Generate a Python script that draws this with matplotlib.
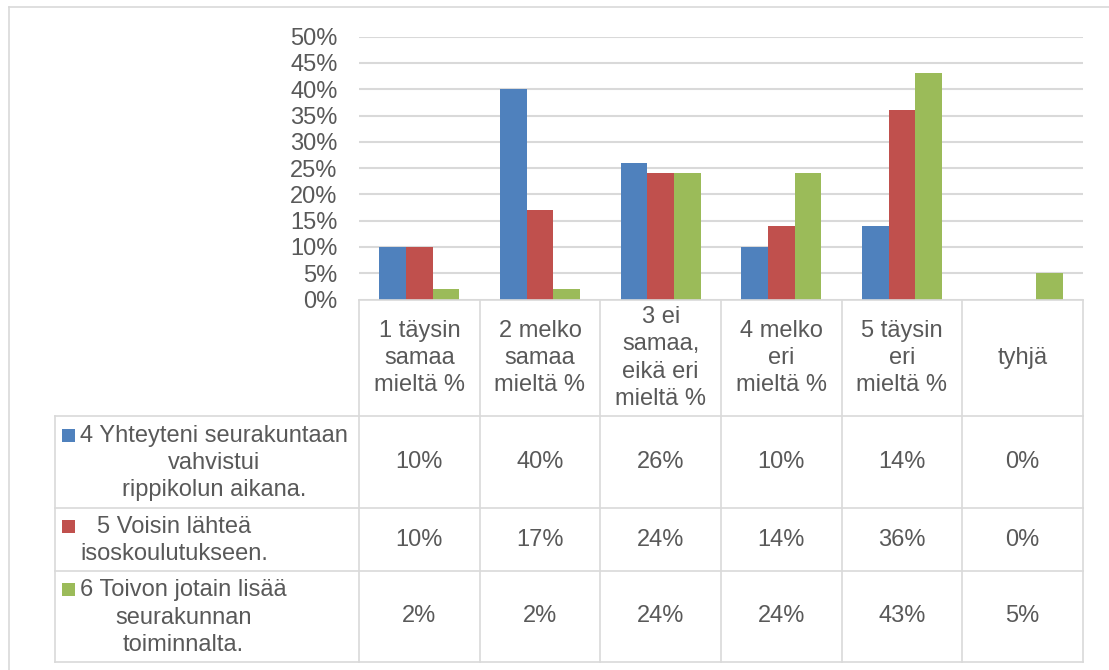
import matplotlib
matplotlib.use("Agg")
import matplotlib.pyplot as plt
import numpy as np
from matplotlib.patches import Rectangle

categories = ["1 täysin\nsamaa\nmieltä %", "2 melko\nsamaa\nmieltä %",
              "3 ei\nsamaa,\neikä eri\nmieltä %", "4 melko\neri\nmieltä %",
              "5 täysin\neri\nmieltä %", "tyhjä"]
series_names = ["4 Yhteyteni seurakuntaan\nvahvistui\nrippikolun aikana.",
                "5 Voisin lähteä\nisoskoulutukseen.",
                "6 Toivon jotain lisää\nseurakunnan\ntoiminnalta."]
s4 = [10, 40, 26, 10, 14, 0]
s5 = [10, 17, 24, 14, 36, 0]
s6 = [2, 2, 24, 24, 43, 5]
series = [s4, s5, s6]
colors = ["#4F81BD", "#C0504D", "#9BBB59"]
yticks = list(range(0, 55, 5))

plt.rcParams['font.family'] = ['Liberation Sans', 'DejaVu Sans']
FS = 17
TXT = "#595959"
GRID = "#D9D9D9"
LS = 1.3

W, H = 1109, 670
fig = plt.figure(figsize=(W / 100, H / 100), dpi=100)

L, R, T, B = 359, 1083, 36.7, 299.5
ax = fig.add_axes([L / W, 1 - B / H, (R - L) / W, (B - T) / H])
n = len(categories)
x = np.arange(n)
bw = 0.221
for i, (vals, c) in enumerate(zip(series, colors)):
    ax.bar(x + (i - 1) * bw, vals, bw, color=c, zorder=3, linewidth=0)
ax.set_xlim(-0.5, n - 0.5)
ax.set_ylim(0, 50)
ax.set_yticks(yticks)
ax.set_yticklabels([f"{v}%" for v in yticks], fontsize=FS, color=TXT)
ax.tick_params(axis='y', length=0, pad=15.5)
ax.set_xticks([])
ax.yaxis.grid(True, color=GRID, lw=1.5)
ax.set_axisbelow(True)
for s in ax.spines.values():
    s.set_visible(False)

ov = fig.add_axes([0, 0, 1, 1])
ov.set_xlim(0, W)
ov.set_ylim(H, 0)
ov.axis('off')

lw = 1.2
# outer chart border (cropped on right/bottom)
ov.plot([9, 9], [7, H], color=GRID, lw=lw)
ov.plot([9, W], [7, 7], color=GRID, lw=lw)

colw = (R - L) / n
xb = [L + k * colw for k in range(n + 1)]
hdr_top, hdr_bot = 300, 416
rows_y = [416, 508, 571, 662]
LEG_L = 55
ov.plot([L, R], [hdr_top, hdr_top], color=GRID, lw=lw)
for yy in rows_y:
    ov.plot([LEG_L, R], [yy, yy], color=GRID, lw=lw)
for xx in xb:
    ov.plot([xx, xx], [hdr_top, rows_y[-1]], color=GRID, lw=lw)
ov.plot([LEG_L, LEG_L], [rows_y[0], rows_y[-1]], color=GRID, lw=lw)

for k, cat in enumerate(categories):
    ov.text((xb[k] + xb[k + 1]) / 2, (hdr_top + hdr_bot) / 2, cat, ha='center', va='center',
            multialignment='center', fontsize=FS, color=TXT, linespacing=LS)

LINE = 27
for r, (name, vals, c) in enumerate(zip(series_names, series, colors)):
    cy = (rows_y[r] + rows_y[r + 1]) / 2
    for k, v in enumerate(vals):
        ov.text((xb[k] + xb[k + 1]) / 2, cy, f"{v}%", ha='center', va='center',
                fontsize=FS, color=TXT)
    nl = name.count("\n") + 1
    ov.text(80, cy + 1, name, ha='left', va='center', multialignment='center',
            fontsize=FS, color=TXT, linespacing=LS)
    my = cy - (nl - 1) / 2 * LINE
    ov.add_patch(Rectangle((62, my - 6.5), 13, 13, color=c, lw=0))

fig.savefig("out.png", dpi=100)
